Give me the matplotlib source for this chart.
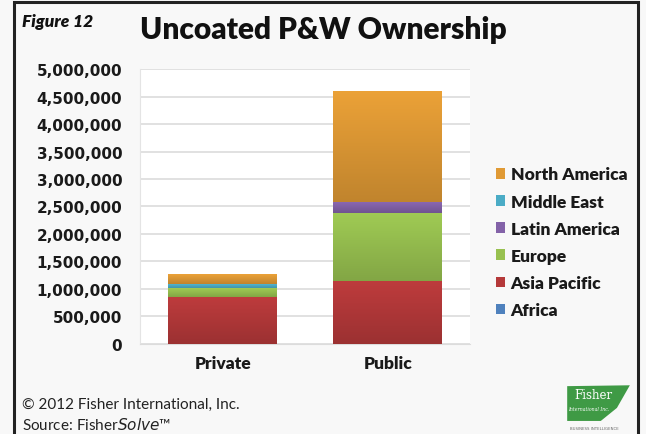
import numpy as np
import matplotlib.pyplot as plt
from matplotlib.patches import Rectangle, Polygon
from matplotlib.colors import LinearSegmentedColormap, to_rgb

# stacked values, tonnes
groups = ['Private', 'Public']
regions = ['Africa', 'Asia Pacific', 'Europe', 'Latin America', 'Middle East', 'North America']
africa = [0, 0]
asia_pacific = [860000, 1150000]
europe = [150000, 1230000]
latin_america = [10000, 200000]
middle_east = [70000, 0]
north_america = [180000, 2020000]
yticks = np.arange(0, 5000001, 500000)

colors = ['#4F81BD', '#B5393A', '#98C150', '#8362A8', '#4BACC6', '#E09A35']
series = [africa, asia_pacific, europe, latin_america, middle_east, north_america]


def shade(c, f):
    r = np.array(to_rgb(c))
    return tuple(np.clip(r * f, 0, 1))


fig = plt.figure(figsize=(6.46, 4.35), dpi=100)
fig.patch.set_facecolor('#f8f8f8')

# outer frame
fig.add_artist(Rectangle((0.022, -0.01), 0.966, 1.003, transform=fig.transFigure,
                         fill=False, edgecolor='#222222', lw=2.2))

ax = fig.add_axes([0.217, 0.207, 0.511, 0.632])
ax.set_facecolor('white')

x = np.arange(len(groups))
bottom = np.zeros(len(groups))
handles = []
for name, vals, c in zip(regions, series, colors):
    b = ax.bar(x, vals, width=0.66, bottom=bottom, color=c, label=name,
               edgecolor='none', zorder=3)
    handles.append(b)
    # vertical gradient, lighter at top of each segment
    cmap = LinearSegmentedColormap.from_list('g', [shade(c, 0.86), shade(c, 1.05)])
    grad = np.linspace(0, 1, 64).reshape(-1, 1)
    for p in b.patches:
        if p.get_height() <= 0:
            continue
        x0, y0 = p.get_x(), p.get_y()
        im = ax.imshow(grad, cmap=cmap, origin='lower', aspect='auto',
                       extent=[x0, x0 + p.get_width(), y0, y0 + p.get_height()],
                       zorder=4, interpolation='bilinear')
        im.set_clip_path(p)
    bottom += np.array(vals)

ax.set_xlim(-0.5, 1.5)
ax.set_ylim(0, 5000000)
ax.set_yticks(yticks)
ax.set_yticklabels([f'{v:,}' for v in yticks], fontsize=11, fontweight='bold',
                   family='DejaVu Sans', color='#1a1a1a')
ax.set_xticks(x)
ax.set_xticklabels(groups, fontsize=12.5, fontweight='heavy', family='Lato',
                   color='#1a1a1a')
ax.tick_params(length=0, axis='y', pad=13)
ax.tick_params(length=0, axis='x', pad=8)
ax.grid(axis='y', color='#dcdcdc', lw=1.2, zorder=0)
for s in ['top', 'right']:
    ax.spines[s].set_visible(False)
ax.spines['bottom'].set_color('#dcdcdc')
ax.spines['left'].set_color('#e4e4e4')

leg = ax.legend(handles[::-1], regions[::-1], loc='center left',
                bbox_to_anchor=(1.03, 0.37), frameon=False,
                prop={'family': 'Lato', 'weight': 'heavy', 'size': 12.5},
                handlelength=0.55, handleheight=0.55, handletextpad=0.3,
                labelspacing=0.64)
for t in leg.get_texts():
    t.set_color('#1a1a1a')

fig.text(0.034, 0.95, 'Figure 12', fontsize=12.5, fontweight='heavy',
         style='italic', family='Lato', color='#111111', va='center')
fig.text(0.5, 0.93, 'Uncoated P&W Ownership', fontsize=21.5, fontweight='heavy',
         family='Lato', color='#111111', ha='center', va='center')

fig.text(0.034, 0.07, '\u00a9 2012 Fisher International, Inc.', fontsize=11,
         family='Lato', color='#222222', va='center')
fig.text(0.034, 0.023, 'Source: Fisher$\\it{Solve}$\u2122', fontsize=11,
         family='Lato', color='#222222', va='center')

# logo badge
badge = Polygon([(0.878, 0.03), (0.878, 0.11), (0.975, 0.112), (0.955, 0.06),
                 (0.93, 0.03)], closed=True, transform=fig.transFigure,
                facecolor='#3f9a45', edgecolor='none')
fig.add_artist(badge)
fig.text(0.918, 0.09, 'Fisher', fontsize=8.5, family='DejaVu Serif', color='white',
         ha='center', va='center')
fig.text(0.912, 0.058, 'International Inc.', fontsize=3.3, family='DejaVu Serif',
         style='italic', color='white', ha='center', va='center')
fig.text(0.92, 0.014, 'BUSINESS INTELLIGENCE', fontsize=2.8, color='#666666',
         ha='center', va='center')

fig.savefig('out.png', dpi=100, facecolor=fig.get_facecolor())
